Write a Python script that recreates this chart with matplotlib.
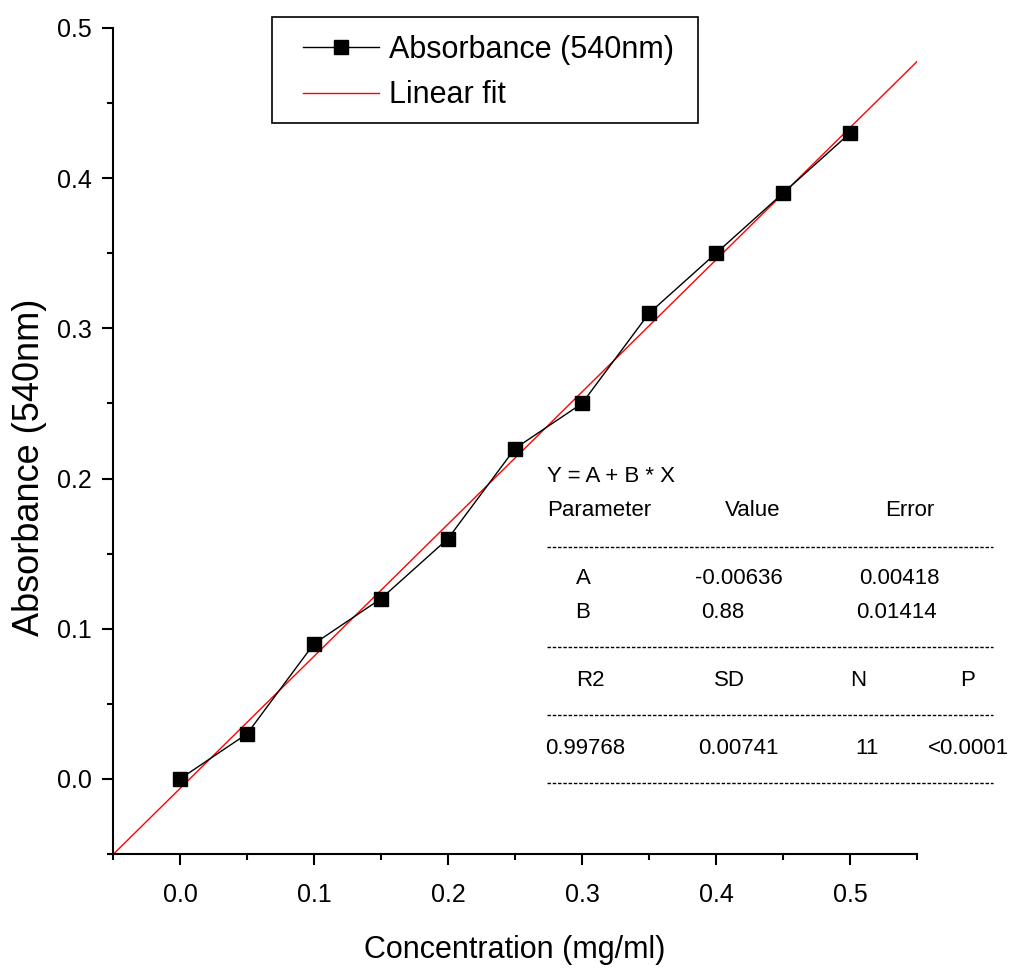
import matplotlib
matplotlib.use("Agg")
import matplotlib.pyplot as plt
from matplotlib.lines import Line2D
from matplotlib.patches import Rectangle
from matplotlib.ticker import MultipleLocator

# data
conc = [0.0, 0.05, 0.10, 0.15, 0.20, 0.25, 0.30, 0.35, 0.40, 0.45, 0.50]
absorb = [0.0, 0.03, 0.09, 0.12, 0.16, 0.22, 0.25, 0.31, 0.35, 0.39, 0.43]
fit_a = -0.00636
fit_b = 0.88
fit_x = [-0.05, 0.55]

ticks = [0.0, 0.1, 0.2, 0.3, 0.4, 0.5]
tick_labels = ["0.0", "0.1", "0.2", "0.3", "0.4", "0.5"]

param_rows = [
    ["A", "-0.00636", "0.00418"],
    ["B", "0.88", "0.01414"],
]
stat_head = ["R2", "SD", "N", "P"]
stat_vals = ["0.99768", "0.00741", "11", "<0.0001"]

plt.rcParams["font.family"] = ["Liberation Sans", "DejaVu Sans"]

W, H = 1013, 973
fig = plt.figure(figsize=(W / 100, H / 100), dpi=100)
ax = fig.add_axes([113 / W, 1 - 854 / H, (917 - 113) / W, (854 - 28) / H])


def fx(px):
    return px / W


def fy(py):
    return 1 - py / H


fit_y = [fit_a + fit_b * x for x in fit_x]
ax.plot(conc, absorb, color="black", lw=1.0, marker="s", ms=9.5,
        label="Absorbance (540nm)", zorder=3)
ax.plot(fit_x, fit_y, color="red", lw=1.0, label="Linear fit", zorder=2)

ax.set_xlim(-0.05, 0.55)
ax.set_ylim(-0.05, 0.5)
ax.set_xticks(ticks)
ax.set_xticklabels(tick_labels)
ax.set_yticks(ticks)
ax.set_yticklabels(tick_labels)
ax.xaxis.set_minor_locator(MultipleLocator(0.05))
ax.yaxis.set_minor_locator(MultipleLocator(0.05))

for s in ["top", "right"]:
    ax.spines[s].set_visible(False)
for s in ["left", "bottom"]:
    ax.spines[s].set_linewidth(1.5)
ax.tick_params(which="major", direction="out", length=8, width=1.5,
               labelsize=18, pad=7)
ax.tick_params(which="minor", direction="out", length=4.5, width=1.5)
ax.tick_params(axis="x", which="major", pad=13)

ax.set_xlabel("Concentration (mg/ml)", fontsize=22, labelpad=20)
ax.set_ylabel("Absorbance (540nm)", fontsize=26)
ax.yaxis.set_label_coords((47 - 113) / 804, (854 - 467) / 826)

# legend, frame drawn separately
leg = fig.legend(loc="upper left", bbox_to_anchor=(fx(303), fy(35)),
                 borderaxespad=0, borderpad=0, fontsize=22, handlelength=2.5,
                 handletextpad=0.3, labelspacing=0.5, frameon=False)
fig.add_artist(Rectangle((fx(272), fy(123)), fx(698 - 272), (123 - 17) / H,
                         fill=False, edgecolor="black", lw=1.2))

# fit report
fs = 16
fig.text(fx(547), fy(477), "Y = A + B * X", fontsize=fs, va="center")
fig.text(fx(547), fy(511), "Parameter", fontsize=fs, va="center")
fig.text(fx(753), fy(511), "Value", fontsize=fs, va="center", ha="center")
fig.text(fx(910), fy(511), "Error", fontsize=fs, va="center", ha="center")

row_cols = [[583, 739, 899], [583, 723, 896]]
row_y = [578, 612]
for row, xs, y in zip(param_rows, row_cols, row_y):
    for x, val in zip(xs, row):
        fig.text(fx(x), fy(y), val, fontsize=fs, va="center", ha="center")

for x, t in zip([590, 729, 858, 968], stat_head):
    fig.text(fx(x), fy(680), t, fontsize=fs, va="center", ha="center")
for x, t in zip([585, 738, 867, 968], stat_vals):
    fig.text(fx(x), fy(748), t, fontsize=fs, va="center", ha="center")

for py in [547, 647, 715, 783]:
    fig.add_artist(Line2D([fx(547), fx(993)], [fy(py), fy(py)], color="black",
                          lw=1.0, linestyle=(0, (2.5, 1.3))))

fig.savefig("out.png", dpi=100)
